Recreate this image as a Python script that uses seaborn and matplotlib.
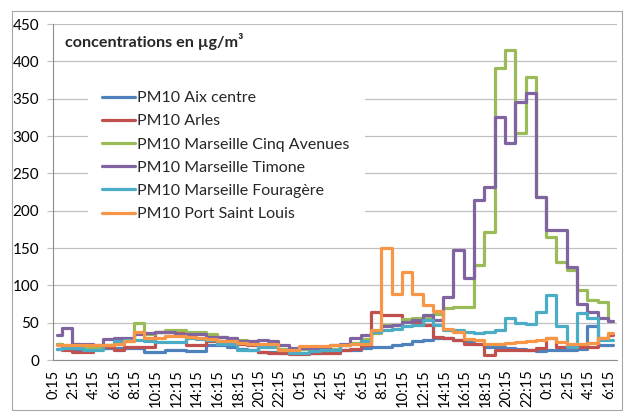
import matplotlib

matplotlib.use("Agg")
import matplotlib.pyplot as plt
import pandas as pd
import seaborn as sns
from matplotlib.lines import Line2D
from matplotlib.patches import Rectangle

STATIONS = [
    "PM10 Aix centre",
    "PM10 Arles",
    "PM10 Marseille Cinq Avenues",
    "PM10 Marseille Timone",
    "PM10 Marseille Fouragère",
    "PM10 Port Saint Louis",
]
COLORS = ["#4F81BD", "#C0504D", "#9BBB59", "#8064A2", "#4BACC6", "#F79646"]

# hourly values, first hour starts at 0:15 (day 1), last one at 6:15 (day 3)
AIX = [15, 15, 15, 15, 15, 16, 16, 16, 16, 11, 11, 13, 13, 12, 12, 20, 20, 18, 15, 13,
       11, 11, 10, 10, 9, 9, 11, 11, 13, 13, 16, 18, 18, 20, 22, 25, 27, 30, 30, 27,
       24, 22, 18, 18, 16, 15, 14, 12, 13, 13, 14, 15, 45, 20, 20]
ARLES = [22, 13, 11, 11, 17, 18, 13, 17, 18, 18, 38, 38, 36, 20, 20, 25, 25, 24, 22, 20,
         11, 10, 10, 8, 8, 10, 10, 10, 13, 15, 20, 64, 60, 60, 54, 51, 47, 31, 30, 27,
         22, 22, 7, 13, 13, 13, 14, 16, 29, 18, 18, 18, 18, 30, 33]
CINQ_AVENUES = [22, 20, 18, 17, 17, 20, 22, 25, 50, 35, 38, 40, 40, 38, 37, 35, 31, 29, 27, 22,
                20, 20, 15, 13, 15, 13, 13, 15, 20, 23, 28, 36, 47, 47, 55, 56, 58, 61, 70, 71,
                71, 127, 171, 391, 415, 304, 379, 218, 165, 131, 120, 94, 80, 78, 52]
TIMONE = [34, 43, 22, 21, 20, 28, 29, 30, 35, 36, 37, 37, 35, 35, 35, 31, 31, 29, 26, 25,
          27, 25, 20, 16, 16, 16, 18, 20, 22, 30, 33, 37, 45, 47, 51, 53, 60, 54, 84, 147,
          110, 214, 232, 325, 290, 346, 357, 218, 174, 174, 125, 75, 64, 56, 52]
FOURAGERE = [15, 16, 16, 13, 13, 20, 25, 27, 27, 25, 24, 24, 24, 29, 28, 27, 22, 22, 14, 13,
             18, 18, 13, 10, 9, 12, 13, 13, 20, 22, 25, 38, 40, 42, 45, 47, 53, 47, 40, 40,
             38, 36, 37, 40, 56, 50, 48, 64, 87, 46, 18, 63, 56, 27, 27]
PORT_ST_LOUIS = [20, 20, 20, 20, 20, 20, 22, 26, 37, 29, 29, 32, 32, 31, 30, 28, 26, 25, 23, 22,
                 22, 22, 14, 14, 19, 19, 19, 20, 20, 21, 22, 40, 150, 89, 118, 89, 73, 66, 42, 38,
                 28, 27, 22, 22, 23, 24, 25, 27, 30, 24, 22, 22, 23, 30, 36]
SERIES = [AIX, ARLES, CINQ_AVENUES, TIMONE, FOURAGERE, PORT_ST_LOUIS]

TICK_LABELS = [
    "0:15", "2:15", "4:15", "6:15", "8:15", "10:15", "12:15", "14:15", "16:15", "18:15", "20:15", "22:15",
    "0:15", "2:15", "4:15", "6:15", "8:15", "10:15", "12:15", "14:15", "16:15", "18:15", "20:15", "22:15",
    "0:15", "2:15", "4:15", "6:15",
]
N_QUARTERS = 220
TITLE = "concentrations en µg/m³"

sns.set_theme(style="white")
plt.rcParams["font.family"] = ["Lato", "DejaVu Sans"]

W, H = 624, 412
fig = plt.figure(figsize=(W / 100, H / 100), dpi=100)
ax = fig.add_axes([53 / W, (H - 360) / H, (617 - 53) / W, (360 - 24) / H])

rows = []
for name, values in zip(STATIONS, SERIES):
    for hour, v in enumerate(values):
        # one value per hour, centred on its four quarter-hour slots
        rows.append({"pos": hour * 4 + 1.5, "value": v, "station": name})
df = pd.DataFrame(rows)

sns.lineplot(
    data=df, x="pos", y="value", hue="station", hue_order=STATIONS,
    palette=dict(zip(STATIONS, COLORS)), estimator=None, drawstyle="steps-mid",
    linewidth=2.3, legend=False, ax=ax, zorder=3,
)

ax.set_xlim(0, N_QUARTERS - 1)
ax.set_ylim(0, 450)
ax.set_yticks(range(0, 451, 50))
ax.set_xticks(range(0, 8 * len(TICK_LABELS), 8))
ax.set_xticklabels(TICK_LABELS, rotation=90)
ax.set_xticks(range(N_QUARTERS), minor=True)
ax.set_xlabel("")
ax.set_ylabel("")

ax.set_axisbelow(True)
ax.grid(axis="y", color="#c0c0c0", linewidth=0.9)
ax.grid(axis="x", visible=False)
for side in ["top", "right"]:
    ax.spines[side].set_visible(False)
for side in ["left", "bottom"]:
    ax.spines[side].set_color("#8c8c8c")
    ax.spines[side].set_linewidth(0.8)
ax.tick_params(axis="x", which="major", length=5, width=0.6, color="#8c8c8c",
               pad=2, labelsize=10.5, labelcolor="black")
ax.tick_params(axis="x", which="minor", length=5, width=0.5, color="#8c8c8c")
ax.tick_params(axis="y", length=4, width=0.8, color="#c0c0c0", pad=6,
               labelsize=11, labelcolor="black", left=True)

# white block behind the legend hides the gridlines there
ax.add_patch(Rectangle((88 / W, (H - 236) / H), 277 / W, 156 / H,
                       transform=fig.transFigure, facecolor="white",
                       edgecolor="none", zorder=1))

handles = [Line2D([], [], color=c, linewidth=2.3) for c in COLORS]
ax.legend(handles, STATIONS, loc="upper left",
          bbox_to_anchor=(102 / W, (H - 91) / H), bbox_transform=fig.transFigure,
          frameon=False, fontsize=11.5, handlelength=2.05, handletextpad=0.13,
          labelspacing=0.565, borderpad=0, borderaxespad=0)

fig.text(65 / W, (H - 41) / H, TITLE, fontsize=11.6, fontweight="bold",
         va="center", ha="left")

fig.add_artist(Rectangle((12 / W, 2 / H), 610 / W, 399 / H, transform=fig.transFigure,
                         fill=False, edgecolor="#a6a6a6", linewidth=0.8))

fig.savefig("out.png", dpi=100)
